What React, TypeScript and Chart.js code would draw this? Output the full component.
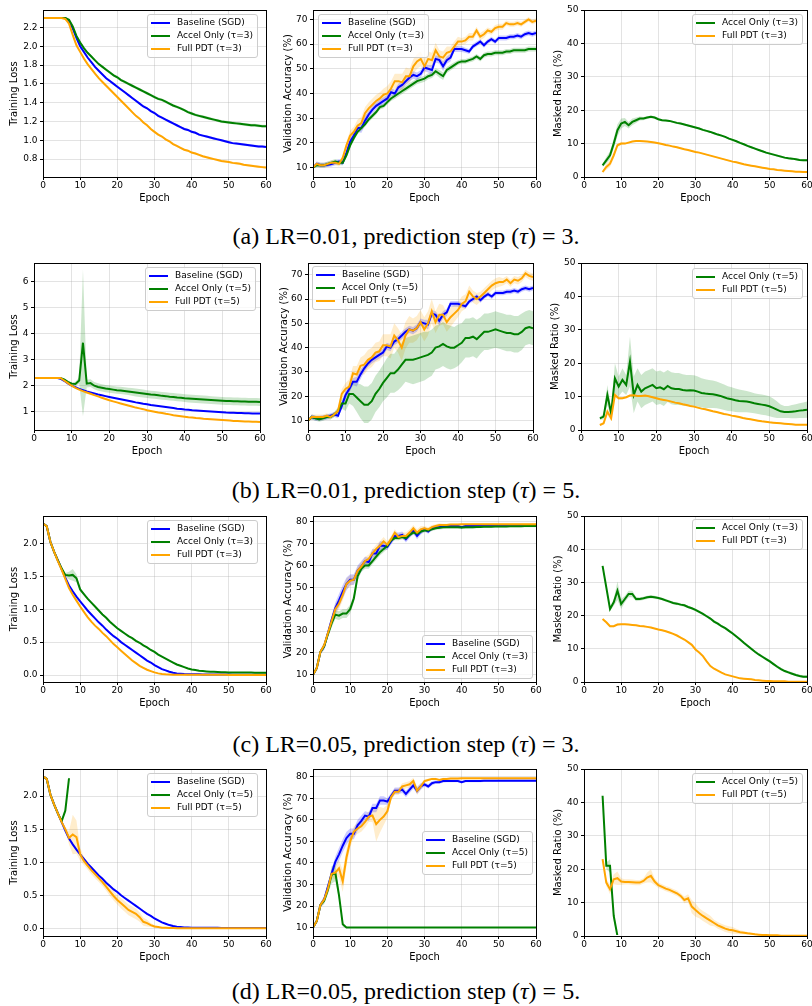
import React, { useEffect, useRef } from 'react';
import { Chart, registerables } from 'chart.js';

Chart.register(...registerables);

const FONT = '"DejaVu Sans", sans-serif';
const BLUE = '#0000ff';
const GREEN = '#008000';
const ORANGE = '#ffa500';
const GRID = 'rgba(176,176,176,0.35)';

const EPOCHS = Array.from({ length: 61 }, (_, i) => i);
const MASK_EPOCHS = Array.from({ length: 56 }, (_, i) => i + 5);

const X_TICKS = [0, 10, 20, 30, 40, 50, 60];
const LOSS_TICKS_A = [0.8, 1.0, 1.2, 1.4, 1.6, 1.8, 2.0, 2.2];
const LOSS_TICKS_B = [1, 2, 3, 4, 5, 6];
const LOSS_TICKS_CD = [0, 0.5, 1.0, 1.5, 2.0];
const ACC_TICKS_AB = [10, 20, 30, 40, 50, 60, 70];
const ACC_TICKS_CD = [10, 20, 30, 40, 50, 60, 70, 80];
const MASK_TICKS = [0, 10, 20, 30, 40, 50];

const LBL_BASE = 'Baseline (SGD)';
const LBL_ACCEL3 = 'Accel Only (τ=3)';
const LBL_FULL3 = 'Full PDT (τ=3)';
const LBL_ACCEL5 = 'Accel Only (τ=5)';
const LBL_FULL5 = 'Full PDT (τ=5)';

// ================= LR = 0.01 : training loss (epochs 0..60) =================
const BASE_LOSS_LR001 = [
  2.30, 2.30, 2.30, 2.30, 2.30, 2.30, 2.30, 2.27, 2.19, 2.09,
  2.00, 1.94, 1.88, 1.83, 1.78, 1.74, 1.70, 1.66, 1.63, 1.60,
  1.57, 1.54, 1.51, 1.48, 1.45, 1.42, 1.39, 1.36, 1.34, 1.31,
  1.29, 1.26, 1.24, 1.22, 1.20, 1.18, 1.16, 1.14, 1.12, 1.11,
  1.09, 1.08, 1.06, 1.05, 1.04, 1.03, 1.02, 1.01, 1.00, 0.99,
  0.98, 0.97, 0.965, 0.96, 0.955, 0.95, 0.945, 0.94, 0.935, 0.935,
  0.93,
];
const BASE_LOSS_LR001_STD = [
  0, 0, 0, 0, 0, 0, 0, 0.01, 0.02, 0.02,
  0.015, 0.013, 0.013, 0.013, 0.013, 0.013, 0.013, 0.013, 0.013, 0.013,
  0.013, 0.013, 0.013, 0.013, 0.013, 0.013, 0.013, 0.013, 0.013, 0.013,
  0.013, 0.013, 0.013, 0.013, 0.013, 0.013, 0.013, 0.013, 0.013, 0.013,
  0.013, 0.013, 0.013, 0.013, 0.013, 0.013, 0.013, 0.013, 0.013, 0.013,
  0.013, 0.013, 0.013, 0.013, 0.013, 0.013, 0.013, 0.013, 0.013, 0.013,
  0.013,
];
const ACCEL3_LOSS_LR001 = [
  2.30, 2.30, 2.30, 2.30, 2.30, 2.30, 2.30, 2.28, 2.21, 2.11,
  2.04, 1.98, 1.93, 1.89, 1.85, 1.81, 1.78, 1.75, 1.72, 1.69,
  1.67, 1.64, 1.62, 1.60, 1.58, 1.56, 1.54, 1.52, 1.50, 1.48,
  1.46, 1.44, 1.43, 1.41, 1.39, 1.37, 1.355, 1.34, 1.32, 1.30,
  1.285, 1.27, 1.26, 1.25, 1.24, 1.23, 1.22, 1.21, 1.20, 1.195,
  1.19, 1.185, 1.18, 1.175, 1.17, 1.165, 1.16, 1.16, 1.155, 1.15,
  1.15,
];
const ACCEL3_LOSS_LR001_STD = [
  0, 0, 0, 0, 0, 0, 0, 0.01, 0.02, 0.02,
  0.015, 0.015, 0.015, 0.015, 0.015, 0.015, 0.015, 0.015, 0.015, 0.015,
  0.015, 0.015, 0.015, 0.015, 0.015, 0.015, 0.015, 0.015, 0.015, 0.015,
  0.015, 0.015, 0.015, 0.015, 0.015, 0.015, 0.015, 0.015, 0.015, 0.015,
  0.015, 0.015, 0.015, 0.015, 0.015, 0.015, 0.015, 0.015, 0.015, 0.015,
  0.015, 0.015, 0.015, 0.015, 0.015, 0.015, 0.015, 0.015, 0.015, 0.015,
  0.015,
];
const FULL3_LOSS_LR001 = [
  2.30, 2.30, 2.30, 2.30, 2.30, 2.30, 2.29, 2.24, 2.12, 2.01,
  1.94, 1.87, 1.81, 1.76, 1.71, 1.66, 1.62, 1.58, 1.54, 1.50,
  1.46, 1.42, 1.38, 1.34, 1.30, 1.26, 1.23, 1.19, 1.16, 1.12,
  1.09, 1.06, 1.04, 1.01, 0.99, 0.96, 0.94, 0.92, 0.90, 0.89,
  0.87, 0.86, 0.845, 0.83, 0.82, 0.81, 0.80, 0.79, 0.78, 0.775,
  0.77, 0.76, 0.755, 0.75, 0.74, 0.735, 0.73, 0.725, 0.72, 0.715,
  0.71,
];
const FULL3_LOSS_LR001_STD = [
  0, 0, 0, 0, 0, 0, 0.01, 0.015, 0.02, 0.02,
  0.015, 0.012, 0.012, 0.012, 0.012, 0.012, 0.012, 0.012, 0.012, 0.012,
  0.012, 0.012, 0.012, 0.012, 0.012, 0.012, 0.012, 0.012, 0.012, 0.012,
  0.012, 0.012, 0.012, 0.012, 0.012, 0.012, 0.012, 0.012, 0.012, 0.012,
  0.012, 0.012, 0.012, 0.012, 0.012, 0.012, 0.012, 0.012, 0.012, 0.012,
  0.012, 0.012, 0.012, 0.012, 0.012, 0.012, 0.012, 0.012, 0.012, 0.012,
  0.012,
];
const ACCEL5_LOSS_LR001 = [
  2.30, 2.30, 2.30, 2.30, 2.30, 2.30, 2.30, 2.30, 2.24, 2.15,
  2.08, 2.07, 2.20, 3.65, 2.08, 2.10, 2.00, 1.95, 1.92, 1.89,
  1.87, 1.85, 1.83, 1.82, 1.80, 1.78, 1.76, 1.74, 1.72, 1.70,
  1.68, 1.66, 1.65, 1.63, 1.61, 1.60, 1.58, 1.57, 1.55, 1.54,
  1.52, 1.51, 1.50, 1.49, 1.48, 1.47, 1.46, 1.45, 1.44, 1.43,
  1.42, 1.41, 1.41, 1.40, 1.40, 1.39, 1.39, 1.38, 1.38, 1.38,
  1.37,
];
const ACCEL5_LOSS_LR001_STD = [
  0, 0, 0, 0, 0, 0, 0, 0, 0.02, 0.03,
  0.05, 0.08, 0.12, 2.82, 0.15, 0.15, 0.14, 0.14, 0.14, 0.14,
  0.14, 0.14, 0.14, 0.14, 0.14, 0.14, 0.15, 0.15, 0.15, 0.15,
  0.15, 0.15, 0.15, 0.15, 0.15, 0.15, 0.15, 0.15, 0.15, 0.15,
  0.15, 0.15, 0.15, 0.15, 0.15, 0.15, 0.15, 0.15, 0.15, 0.15,
  0.15, 0.15, 0.15, 0.15, 0.15, 0.15, 0.15, 0.15, 0.15, 0.15,
  0.15,
];
const FULL5_LOSS_LR001 = [
  2.30, 2.30, 2.30, 2.30, 2.30, 2.30, 2.30, 2.30, 2.20, 2.10,
  2.00, 1.92, 1.85, 1.79, 1.74, 1.69, 1.64, 1.59, 1.54, 1.49,
  1.44, 1.40, 1.36, 1.32, 1.28, 1.24, 1.20, 1.16, 1.13, 1.10,
  1.06, 1.03, 1.00, 0.97, 0.95, 0.92, 0.90, 0.87, 0.85, 0.83,
  0.81, 0.79, 0.78, 0.76, 0.75, 0.73, 0.72, 0.71, 0.70, 0.69,
  0.68, 0.67, 0.66, 0.65, 0.65, 0.64, 0.63, 0.63, 0.62, 0.62,
  0.61,
];
const FULL5_LOSS_LR001_STD = [
  0, 0, 0, 0, 0, 0, 0, 0, 0.01, 0.015,
  0.015, 0.012, 0.012, 0.012, 0.012, 0.012, 0.012, 0.012, 0.012, 0.012,
  0.012, 0.012, 0.012, 0.012, 0.012, 0.012, 0.012, 0.012, 0.012, 0.012,
  0.012, 0.012, 0.012, 0.012, 0.012, 0.012, 0.012, 0.012, 0.012, 0.012,
  0.012, 0.012, 0.012, 0.012, 0.012, 0.012, 0.012, 0.012, 0.012, 0.012,
  0.012, 0.012, 0.012, 0.012, 0.012, 0.012, 0.012, 0.012, 0.012, 0.012,
  0.012,
];

// ================= LR = 0.01 : validation accuracy (epochs 0..60) =================
const BASE_ACC_LR001 = [
  10, 11.5, 11, 11, 11.2, 11.5, 12, 12.5, 12, 16,
  20.5, 23, 26, 26, 29, 31.5, 33.5, 35, 36, 37,
  38, 40.5, 40, 42.5, 43.5, 45, 46.5, 47.5, 47, 48,
  50.5, 50, 49.5, 54, 53.5, 51, 53.5, 54.5, 58, 58,
  58, 57.5, 57, 59, 60, 61, 59.5, 61, 62, 61,
  62.5, 62.5, 62.5, 63, 63, 63.5, 63, 64, 64.5, 64,
  64.5,
];
const BASE_ACC_LR001_STD = [
  0.3, 1, 1, 1, 1, 1, 1, 1, 1, 1.2,
  1.5, 1.5, 1.5, 2, 2, 1.5, 1.5, 1.5, 1.5, 1.5,
  1.5, 1.5, 1.5, 1.5, 1.5, 1.5, 1.5, 1.5, 1.5, 1.5,
  1.5, 1.5, 2, 1.5, 1.5, 2, 1.5, 1.5, 1.2, 1.2,
  1.2, 1, 1, 1, 1, 1, 1, 1, 1, 1,
  1, 1, 1, 1, 1, 1, 1, 1, 1, 1,
  1,
];
const ACCEL3_ACC_LR001 = [
  10, 11, 11, 11, 11.5, 12, 12.5, 12, 12, 15,
  19, 22, 24.5, 26, 27.5, 29.5, 31, 32.5, 34.5, 35,
  36.5, 38, 39, 40, 41, 42, 43, 44, 45, 45.5,
  46, 47, 47.5, 49, 48, 47, 49.5, 50.5, 51.5, 52.5,
  53, 53, 53.5, 54, 55, 54, 55.5, 56, 56, 56.5,
  56.5, 56.5, 57, 57, 57.5, 57.5, 57.5, 57.5, 58, 58,
  58,
];
const ACCEL3_ACC_LR001_STD = [
  0.3, 1, 1, 1, 1, 1, 1, 1, 1, 1,
  1, 1, 1, 1, 1, 1, 1, 1, 1, 1,
  1, 1, 1.2, 1.2, 1.2, 1.2, 1.2, 1.2, 1.2, 1.2,
  1.2, 1.2, 1.2, 1.2, 1.5, 1.5, 1.2, 1.2, 1.2, 1,
  1, 1, 1, 1, 1, 1, 1, 1, 1, 1,
  1, 1, 1, 1, 1, 1, 1, 1, 1, 1,
  1,
];
const FULL3_ACC_LR001 = [
  10, 11.5, 11, 11, 11.5, 12, 12, 11.5, 14, 19,
  23, 24.5, 27, 28, 32, 34, 35.5, 37, 38, 39.5,
  40, 42, 45, 45, 44.5, 47, 47, 51, 53, 54,
  51, 54, 53.5, 57.5, 55, 54.5, 56.5, 57, 59, 61,
  61, 61.5, 63, 63, 65.5, 63, 64, 65.5, 65, 66.5,
  67, 67, 68.5, 68, 68, 68.5, 68, 69, 70, 69,
  69.5,
];
const FULL3_ACC_LR001_STD = [
  0.3, 1, 1, 1, 1, 1, 1, 1, 1, 1.5,
  2, 2, 2.5, 2.5, 2.5, 2.5, 2.5, 2.5, 2.5, 2.5,
  3, 3, 3, 3, 3.5, 3.5, 3, 3, 3, 3,
  3, 3, 3, 3, 2.5, 2.5, 2.5, 2, 2, 2,
  1.5, 1.5, 1.5, 1.5, 1.5, 1.5, 1.5, 1.2, 1.2, 1.2,
  1.2, 1.2, 1, 1, 1, 1, 1, 1, 1, 1,
  1,
];
const ACCEL5_ACC_LR001 = [
  10, 11.5, 11, 10.5, 11, 11.5, 11.5, 12.5, 14, 17,
  17, 21, 21, 19.5, 18, 16.5, 16.5, 18, 21, 23,
  25.5, 27.5, 29.5, 29.5, 31, 33, 35, 35, 35, 35.5,
  36, 36.5, 37, 38, 40, 40.5, 41.5, 40.5, 40, 40,
  41, 42, 44, 44, 44.5, 43.5, 45, 46.5, 46.5, 47,
  47.5, 47, 46.5, 46, 46, 45.5, 45.5, 46.5, 48, 48.5,
  48,
];
const ACCEL5_ACC_LR001_STD = [
  0.3, 1, 1, 1, 1, 1, 1, 1, 1.5, 2,
  3, 4, 5, 6, 7, 7.5, 7.5, 7.5, 7.5, 7.5,
  7.5, 8, 8, 8, 8.5, 9, 9, 9.5, 10, 10,
  10, 10, 9.5, 9.5, 9, 9, 9, 9, 9, 8.5,
  8.5, 8, 8, 8, 8, 8, 7.5, 7.5, 7.5, 7.5,
  7.5, 7.5, 7.5, 7.5, 7.5, 7.5, 7.5, 7.5, 7, 7,
  7,
];
const FULL5_ACC_LR001 = [
  10, 11.5, 11.5, 11.5, 11.5, 12, 11.5, 12.5, 14, 21,
  23, 24, 29.5, 29, 32.5, 33, 35, 36, 38, 38.5,
  41, 41, 40.5, 45, 43, 40, 45, 47.5, 47, 48,
  50.5, 47.5, 50, 55, 50.5, 53.5, 53.5, 50.5, 52.5, 54,
  55.5, 58, 59, 63, 61, 60, 61, 62.5, 64, 65.5,
  66.5, 67, 67, 68, 66.5, 68, 67.5, 68.5, 70.5, 69.5,
  69,
];
const FULL5_ACC_LR001_STD = [
  0.3, 1, 1, 1, 1, 1, 1, 1, 1, 2,
  2.5, 3, 3, 3.5, 3.5, 4, 4, 4, 4, 4,
  4.5, 4.5, 5, 5, 5, 5.5, 5.5, 5.5, 5, 5,
  5, 5, 5, 5, 4.5, 4.5, 4, 4, 4, 3.5,
  3, 3, 3, 2.5, 2.5, 2.5, 2, 2, 2, 2,
  2, 2, 1.5, 1.5, 1.5, 1.5, 1.5, 1.5, 1.5, 1.5,
  1.5,
];

// ================= LR = 0.01 : masked ratio (epochs 5..60) =================
const ACCEL3_MASK_LR001 = [
  3.5, 5, 6.5, 10, 14, 16, 16.5, 15.5, 16.5, 17,
  17.5, 17.5, 17.8, 18, 17.8, 17.3, 17, 16.9, 16.8, 16.5,
  16.2, 16, 15.7, 15.4, 15.1, 14.8, 14.5, 14.1, 13.8, 13.5,
  13.1, 12.7, 12.4, 12, 11.5, 11.1, 10.7, 10.2, 9.8, 9.3,
  8.9, 8.5, 8.1, 7.7, 7.3, 7, 6.7, 6.4, 6.1, 5.8,
  5.6, 5.5, 5.3, 5.1, 5, 5,
];
const ACCEL3_MASK_LR001_STD = [
  0.5, 1, 1.2, 1.5, 1.8, 1.5, 1.2, 1, 1, 0.8,
  0.6, 0.5, 0.4, 0.4, 0.4, 0.3, 0.3, 0.3, 0.3, 0.3,
  0.3, 0.3, 0.3, 0.3, 0.3, 0.3, 0.3, 0.3, 0.3, 0.3,
  0.3, 0.3, 0.3, 0.3, 0.3, 0.3, 0.3, 0.3, 0.3, 0.3,
  0.3, 0.3, 0.3, 0.3, 0.3, 0.3, 0.3, 0.3, 0.3, 0.3,
  0.3, 0.3, 0.3, 0.3, 0.3, 0.3,
];
const FULL3_MASK_LR001 = [
  1.5, 3, 4, 6.5, 9.5, 10, 10, 10.3, 10.6, 10.8,
  10.8, 10.7, 10.6, 10.5, 10.3, 10.1, 9.9, 9.6, 9.4, 9.1,
  8.9, 8.6, 8.3, 8.1, 7.8, 7.5, 7.3, 7, 6.7, 6.4,
  6.1, 5.8, 5.5, 5.2, 4.9, 4.6, 4.4, 4.1, 3.8, 3.6,
  3.4, 3.2, 3, 2.8, 2.6, 2.4, 2.3, 2.1, 2, 1.9,
  1.8, 1.7, 1.6, 1.6, 1.5, 1.5,
];
const FULL3_MASK_LR001_STD = [
  0.4, 0.8, 1, 1, 0.6, 0.4, 0.3, 0.3, 0.2, 0.2,
  0.2, 0.2, 0.2, 0.2, 0.2, 0.2, 0.2, 0.2, 0.2, 0.2,
  0.2, 0.2, 0.2, 0.2, 0.2, 0.2, 0.2, 0.2, 0.2, 0.2,
  0.2, 0.2, 0.2, 0.2, 0.2, 0.2, 0.2, 0.2, 0.2, 0.2,
  0.2, 0.2, 0.2, 0.2, 0.2, 0.2, 0.2, 0.2, 0.2, 0.2,
  0.2, 0.2, 0.2, 0.2, 0.2, 0.2,
];
const ACCEL5_MASK_LR001 = [
  3.5, 4, 10.5, 5, 15.5, 13, 15, 13.5, 20.5, 10.5,
  13.5, 11.5, 12.5, 13, 13.5, 12.5, 12.8, 12.2, 13.2, 12.5,
  12.3, 12.3, 12, 11.8, 11.9, 11.8, 11.5, 11.1, 10.9, 10.8,
  10.7, 10.5, 10.2, 9.8, 9.4, 9.2, 8.9, 8.7, 8.6, 8.5,
  8.3, 8, 7.8, 7.6, 7.4, 7.1, 6.6, 6.1, 5.6, 5.4,
  5.4, 5.5, 5.6, 5.8, 5.9, 6.1,
];
const ACCEL5_MASK_LR001_STD = [
  0.5, 0.8, 3, 1.5, 4.5, 3, 3.5, 3, 7.5, 5.5,
  5, 5, 5, 5, 5, 5, 5, 5, 4.8, 4.8,
  4.8, 4.8, 4.7, 4.7, 4.6, 4.6, 4.5, 4.4, 4.3, 4.2,
  4.1, 4, 3.9, 3.8, 3.7, 3.6, 3.5, 3.4, 3.3, 3.2,
  3.1, 3, 3, 3, 3, 3, 2.8, 2.5, 2, 1.8,
  1.8, 2, 2.1, 2.2, 2.3, 2.4,
];
const FULL5_MASK_LR001 = [
  1.5, 2, 5.5, 3.5, 10.5, 9.5, 9.5, 9.8, 10.3, 10.4,
  10.2, 10.2, 10.3, 10.1, 9.8, 9.5, 9.2, 9, 8.8, 8.5,
  8.2, 8, 7.7, 7.5, 7.2, 7, 6.7, 6.4, 6.2, 5.9,
  5.6, 5.4, 5.1, 4.8, 4.6, 4.3, 4.1, 3.9, 3.6, 3.4,
  3.2, 3, 2.8, 2.6, 2.5, 2.3, 2.2, 2.1, 2, 1.9,
  1.8, 1.7, 1.6, 1.6, 1.6, 1.6,
];
const FULL5_MASK_LR001_STD = [
  0.3, 0.5, 1, 0.8, 0.8, 0.5, 0.4, 0.3, 0.3, 0.3,
  0.2, 0.2, 0.2, 0.2, 0.2, 0.2, 0.2, 0.2, 0.2, 0.2,
  0.2, 0.2, 0.2, 0.2, 0.2, 0.2, 0.2, 0.2, 0.2, 0.2,
  0.2, 0.2, 0.2, 0.2, 0.2, 0.2, 0.2, 0.2, 0.2, 0.2,
  0.2, 0.2, 0.2, 0.2, 0.2, 0.2, 0.2, 0.2, 0.2, 0.2,
  0.2, 0.2, 0.2, 0.2, 0.2, 0.2,
];

// ================= LR = 0.05 : training loss (epochs 0..60) =================
const BASE_LOSS_LR005 = [
  2.30, 2.26, 2.02, 1.87, 1.74, 1.61, 1.48, 1.36, 1.27, 1.19,
  1.12, 1.05, 0.98, 0.92, 0.86, 0.80, 0.75, 0.69, 0.64, 0.59,
  0.55, 0.50, 0.46, 0.42, 0.38, 0.34, 0.30, 0.26, 0.22, 0.19,
  0.15, 0.12, 0.09, 0.07, 0.05, 0.035, 0.025, 0.02, 0.015, 0.012,
  0.01, 0.01, 0.01, 0.009, 0.009, 0.008, 0.008, 0.008, 0.007, 0.007,
  0.007, 0.006, 0.006, 0.006, 0.006, 0.005, 0.005, 0.005, 0.005, 0.005,
  0.005,
];
const BASE_LOSS_LR005_STD = [
  0, 0.01, 0.01, 0.01, 0.01, 0.01, 0.01, 0.01, 0.01, 0.01,
  0.01, 0.01, 0.01, 0.01, 0.01, 0.01, 0.01, 0.01, 0.01, 0.01,
  0.01, 0.01, 0.01, 0.01, 0.01, 0.01, 0.01, 0.01, 0.01, 0.01,
  0.01, 0.01, 0.01, 0.01, 0.01, 0.005, 0.005, 0.005, 0.005, 0.005,
  0.003, 0.003, 0.003, 0.003, 0.003, 0.003, 0.003, 0.003, 0.003, 0.003,
  0.003, 0.003, 0.003, 0.003, 0.003, 0.003, 0.003, 0.003, 0.003, 0.003,
  0.003,
];
const ACCEL3_LOSS_LR005 = [
  2.30, 2.26, 2.02, 1.87, 1.74, 1.62, 1.52, 1.51, 1.52, 1.47,
  1.30, 1.23, 1.16, 1.10, 1.04, 0.98, 0.92, 0.87, 0.81, 0.76,
  0.71, 0.67, 0.63, 0.59, 0.56, 0.52, 0.49, 0.45, 0.42, 0.38,
  0.35, 0.31, 0.28, 0.25, 0.22, 0.19, 0.16, 0.14, 0.12, 0.10,
  0.085, 0.075, 0.065, 0.06, 0.055, 0.05, 0.048, 0.045, 0.043, 0.042,
  0.04, 0.04, 0.039, 0.038, 0.038, 0.037, 0.037, 0.036, 0.036, 0.035,
  0.035,
];
const ACCEL3_LOSS_LR005_STD = [
  0, 0.01, 0.01, 0.01, 0.01, 0.02, 0.03, 0.06, 0.09, 0.06,
  0.03, 0.02, 0.015, 0.015, 0.015, 0.015, 0.015, 0.015, 0.015, 0.015,
  0.01, 0.01, 0.01, 0.01, 0.01, 0.01, 0.01, 0.01, 0.01, 0.01,
  0.01, 0.01, 0.01, 0.01, 0.01, 0.01, 0.01, 0.01, 0.01, 0.01,
  0.005, 0.005, 0.005, 0.005, 0.005, 0.005, 0.005, 0.005, 0.005, 0.005,
  0.005, 0.005, 0.005, 0.005, 0.005, 0.005, 0.005, 0.005, 0.005, 0.005,
  0.005,
];
const FULL3_LOSS_LR005 = [
  2.30, 2.26, 2.02, 1.87, 1.73, 1.60, 1.46, 1.32, 1.22, 1.13,
  1.04, 0.96, 0.88, 0.81, 0.75, 0.70, 0.64, 0.59, 0.53, 0.47,
  0.42, 0.37, 0.32, 0.27, 0.22, 0.18, 0.14, 0.11, 0.08, 0.06,
  0.04, 0.025, 0.015, 0.01, 0.007, 0.005, 0.004, 0.004, 0.003, 0.003,
  0.003, 0.003, 0.003, 0.003, 0.003, 0.003, 0.003, 0.003, 0.003, 0.003,
  0.002, 0.002, 0.002, 0.002, 0.002, 0.002, 0.002, 0.002, 0.002, 0.002,
  0.002,
];
const FULL3_LOSS_LR005_STD = [
  0, 0.01, 0.01, 0.01, 0.01, 0.01, 0.01, 0.01, 0.01, 0.01,
  0.01, 0.01, 0.01, 0.01, 0.01, 0.01, 0.01, 0.01, 0.01, 0.01,
  0.01, 0.01, 0.01, 0.01, 0.01, 0.01, 0.01, 0.01, 0.01, 0.01,
  0.005, 0.005, 0.005, 0.003, 0.003, 0.002, 0.002, 0.002, 0.002, 0.002,
  0.002, 0.002, 0.002, 0.002, 0.002, 0.002, 0.002, 0.002, 0.002, 0.002,
  0.002, 0.002, 0.002, 0.002, 0.002, 0.002, 0.002, 0.002, 0.002, 0.002,
  0.002,
];
const ACCEL5_LOSS_LR005 = [
  2.30, 2.26, 2.02, 1.87, 1.74, 1.62, 1.78, 2.27, null, null,
  null, null, null, null, null, null, null, null, null, null,
  null, null, null, null, null, null, null, null, null, null,
  null, null, null, null, null, null, null, null, null, null,
  null, null, null, null, null, null, null, null, null, null,
  null, null, null, null, null, null, null, null, null, null,
  null,
];
const ACCEL5_LOSS_LR005_STD = [0, 0.01, 0.01, 0.01, 0.01, 0.02, 0.03, 0.03];
const FULL5_LOSS_LR005 = [
  2.30, 2.26, 2.02, 1.87, 1.74, 1.61, 1.50, 1.37, 1.42, 1.38,
  1.12, 1.02, 0.95, 0.88, 0.82, 0.76, 0.70, 0.63, 0.56, 0.49,
  0.43, 0.38, 0.33, 0.28, 0.25, 0.22, 0.17, 0.10, 0.08, 0.05,
  0.03, 0.02, 0.01, 0.008, 0.006, 0.005, 0.004, 0.004, 0.004, 0.004,
  0.003, 0.003, 0.003, 0.003, 0.003, 0.003, 0.003, 0.003, 0.003, 0.003,
  0.003, 0.003, 0.003, 0.003, 0.003, 0.003, 0.003, 0.003, 0.003, 0.003,
  0.003,
];
const FULL5_LOSS_LR005_STD = [
  0, 0.01, 0.01, 0.01, 0.01, 0.01, 0.02, 0.1, 0.3, 0.25,
  0.1, 0.06, 0.06, 0.06, 0.06, 0.06, 0.06, 0.06, 0.07, 0.07,
  0.07, 0.08, 0.08, 0.08, 0.08, 0.08, 0.07, 0.06, 0.05, 0.03,
  0.02, 0.01, 0.005, 0.003, 0.003, 0.003, 0.003, 0.003, 0.003, 0.003,
  0.003, 0.003, 0.003, 0.003, 0.003, 0.003, 0.003, 0.003, 0.003, 0.003,
  0.003, 0.003, 0.003, 0.003, 0.003, 0.003, 0.003, 0.003, 0.003, 0.003,
  0.003,
];

// ================= LR = 0.05 : validation accuracy (epochs 0..60) =================
const BASE_ACC_LR005 = [
  10, 13, 20.5, 23, 29, 35, 40.5, 44, 48, 51.5,
  53.5, 53.5, 57.5, 59.5, 62, 61.5, 65.5, 65.5, 69, 69,
  68.5, 71, 73.5, 73.5, 74, 72, 74, 76, 73.5, 75.5,
  76.5, 75.5, 77, 77.5, 77.5, 78, 78, 78, 78, 78,
  77.5, 78, 78, 78, 78, 78, 78.1, 78.1, 78.1, 78.1,
  78.2, 78.2, 78.2, 78.2, 78.2, 78.2, 78.2, 78.2, 78.2, 78.2,
  78.2,
];
const BASE_ACC_LR005_STD = [
  0.3, 0.8, 1, 1.5, 1.5, 2, 2.5, 3, 3, 3,
  2.5, 2.5, 2.5, 2.5, 2, 2, 2, 2, 2, 2,
  1.5, 1.5, 1.5, 1.5, 1.5, 1.5, 1.5, 1.5, 1.5, 1.5,
  1, 1, 1, 0.8, 0.8, 0.8, 0.6, 0.6, 0.6, 0.6,
  0.6, 0.5, 0.5, 0.5, 0.5, 0.5, 0.5, 0.5, 0.5, 0.5,
  0.5, 0.5, 0.5, 0.5, 0.5, 0.5, 0.5, 0.5, 0.5, 0.5,
  0.5,
];
const ACCEL3_ACC_LR005 = [
  10, 13, 20.5, 23, 28.5, 33.5, 37.5, 37, 38, 38,
  40, 45, 55, 58.5, 60, 60, 62, 64, 66, 67.5,
  69, 71.5, 72.5, 72.5, 73, 72.5, 74, 75, 74.5, 75.5,
  76, 76, 76.5, 77, 77.2, 77.4, 77.5, 77.5, 77.5, 77.5,
  77.3, 77.4, 77.5, 77.5, 77.6, 77.6, 77.7, 77.7, 77.7, 77.8,
  77.8, 77.8, 77.8, 77.9, 77.9, 77.9, 77.9, 78, 78, 78,
  78,
];
const ACCEL3_ACC_LR005_STD = [
  0.3, 0.8, 1, 1.5, 1.5, 2, 2, 2, 2, 2,
  2, 2, 2, 1.5, 1.5, 1.5, 1.5, 1.5, 1.5, 1.5,
  1.5, 1, 1, 1, 1, 1, 1, 1, 1, 1,
  0.8, 0.8, 0.8, 0.8, 0.8, 0.8, 0.6, 0.6, 0.6, 0.6,
  0.6, 0.6, 0.6, 0.6, 0.6, 0.5, 0.5, 0.5, 0.5, 0.5,
  0.5, 0.5, 0.5, 0.5, 0.5, 0.5, 0.5, 0.5, 0.5, 0.5,
  0.5,
];
const FULL3_ACC_LR005 = [
  10, 13, 20.5, 23.5, 29, 34.5, 40, 42.5, 46.5, 51.5,
  53, 53.5, 57.5, 59.5, 62, 63, 65.5, 67.5, 69, 71,
  69.5, 72, 75, 73, 73.5, 73.5, 75, 77, 75, 76.5,
  77, 76.5, 77.5, 78, 78.5, 78.5, 78.5, 78.7, 78.7, 78.7,
  78.8, 78.8, 78.8, 78.8, 78.8, 78.8, 78.8, 78.8, 78.8, 78.8,
  78.8, 78.8, 78.8, 78.8, 78.8, 78.8, 78.8, 78.8, 78.8, 78.8,
  78.8,
];
const FULL3_ACC_LR005_STD = [
  0.3, 0.8, 1, 1.5, 1.5, 2, 2.5, 2.5, 2.5, 2.5,
  2.5, 2, 2, 2, 2, 2, 2, 2, 2, 2,
  1.5, 1.5, 1.5, 1.5, 1.5, 1.5, 1.5, 1.5, 1.5, 1.5,
  1, 1, 1, 0.8, 0.8, 0.6, 0.6, 0.5, 0.5, 0.5,
  0.5, 0.5, 0.5, 0.5, 0.5, 0.5, 0.5, 0.5, 0.5, 0.5,
  0.5, 0.5, 0.5, 0.5, 0.5, 0.5, 0.5, 0.5, 0.5, 0.5,
  0.5,
];
const ACCEL5_ACC_LR005 = [
  10, 13, 20.5, 22.5, 27.5, 34.5, 35.5, 25, 11.5, 10,
  10, 10, 10, 10, 10, 10, 10, 10, 10, 10,
  10, 10, 10, 10, 10, 10, 10, 10, 10, 10,
  10, 10, 10, 10, 10, 10, 10, 10, 10, 10,
  10, 10, 10, 10, 10, 10, 10, 10, 10, 10,
  10, 10, 10, 10, 10, 10, 10, 10, 10, 10,
  10,
];
const ACCEL5_ACC_LR005_STD = [
  0.3, 0.8, 1, 1.5, 2, 4, 4, 2, 1, 0.3,
  0, 0, 0, 0, 0, 0, 0, 0, 0, 0,
  0, 0, 0, 0, 0, 0, 0, 0, 0, 0,
  0, 0, 0, 0, 0, 0, 0, 0, 0, 0,
  0, 0, 0, 0, 0, 0, 0, 0, 0, 0,
  0, 0, 0, 0, 0, 0, 0, 0, 0, 0,
  0,
];
const FULL5_ACC_LR005 = [
  10, 13, 20.5, 23, 28, 35, 35.5, 37.5, 31.5, 42.5,
  50, 54.5, 56, 57, 59, 61.5, 62, 58, 60, 61.5,
  64, 70.5, 73, 73, 75.5, 76, 76.5, 78, 73.5, 75.5,
  78, 78.5, 79, 79, 78.5, 79, 79, 79.2, 79.2, 79.2,
  79.3, 79.3, 79.3, 79.3, 79.3, 79.3, 79.3, 79.3, 79.3, 79.3,
  79.3, 79.3, 79.3, 79.3, 79.3, 79.3, 79.3, 79.3, 79.3, 79.3,
  79.3,
];
const FULL5_ACC_LR005_STD = [
  0.3, 0.8, 1, 1.5, 1.5, 2, 3, 4, 5, 4,
  3, 2.5, 2.5, 2.5, 2.5, 2.5, 3, 8, 6, 4,
  3, 1.5, 1.5, 1.5, 1.5, 1.5, 1.5, 1.5, 2, 1.5,
  0.8, 0.6, 0.5, 0.5, 0.5, 0.5, 0.5, 0.5, 0.5, 0.5,
  0.4, 0.4, 0.4, 0.4, 0.4, 0.4, 0.4, 0.4, 0.4, 0.4,
  0.4, 0.4, 0.4, 0.4, 0.4, 0.4, 0.4, 0.4, 0.4, 0.4,
  0.4,
];

// ================= LR = 0.05 : masked ratio (epochs 5..60) =================
const ACCEL3_MASK_LR005 = [
  35, 28.5, 22, 24, 27.5, 23.5, 25, 26.5, 26.5, 25,
  25, 25.2, 25.5, 25.7, 25.5, 25.3, 25, 24.6, 24.2, 23.8,
  23.6, 23.3, 23.1, 22.6, 22.2, 21.7, 21.1, 20.5, 19.8, 19.1,
  18.2, 17.6, 16.8, 16.2, 15.4, 14.6, 13.7, 12.8, 11.8, 10.9,
  10, 9.1, 8.3, 7.6, 6.9, 6.2, 5.4, 4.6, 3.9, 3.3,
  2.9, 2.5, 2.1, 1.8, 1.6, 1.6,
];
const ACCEL3_MASK_LR005_STD = [
  0.3, 0.5, 0.7, 1, 2.8, 1.5, 1, 1, 1, 0.7,
  0.5, 0.5, 0.5, 0.5, 0.5, 0.4, 0.4, 0.4, 0.4, 0.4,
  0.4, 0.4, 0.4, 0.4, 0.4, 0.4, 0.4, 0.4, 0.4, 0.4,
  0.4, 0.4, 0.4, 0.4, 0.4, 0.4, 0.4, 0.4, 0.4, 0.4,
  0.4, 0.4, 0.4, 0.4, 0.4, 0.4, 0.4, 0.4, 0.4, 0.4,
  0.4, 0.4, 0.4, 0.4, 0.4, 0.4,
];
const FULL3_MASK_LR005 = [
  19, 18, 16.8, 16.8, 17.3, 17.4, 17.4, 17.3, 17.2, 17.1,
  16.9, 16.8, 16.6, 16.4, 16.1, 15.8, 15.6, 15.3, 14.9, 14.5,
  14, 13.4, 12.8, 12, 11.2, 9.8, 8.9, 7.8, 6.2, 4.8,
  4, 3.4, 2.8, 2.3, 2, 1.7, 1.4, 1.1, 1, 0.9,
  0.8, 0.6, 0.5, 0.4, 0.3, 0.3, 0.2, 0.2, 0.2, 0.2,
  0.1, 0.1, 0.1, 0.1, 0.1, 0.1,
];
const FULL3_MASK_LR005_STD = [
  0.3, 0.3, 0.3, 0.3, 0.3, 0.2, 0.2, 0.2, 0.2, 0.2,
  0.2, 0.2, 0.2, 0.2, 0.2, 0.2, 0.2, 0.2, 0.2, 0.2,
  0.2, 0.2, 0.2, 0.2, 0.2, 0.2, 0.2, 0.2, 0.2, 0.2,
  0.2, 0.2, 0.2, 0.2, 0.2, 0.2, 0.2, 0.2, 0.2, 0.2,
  0.1, 0.1, 0.1, 0.1, 0.1, 0.1, 0.1, 0.1, 0.1, 0.1,
  0.05, 0.05, 0.05, 0.05, 0.05, 0.05,
];
const ACCEL5_MASK_LR005 = [
  42, 21, 21, 6, 0, 0, 0, 0, 0, 0,
  0, 0, 0, 0, 0, 0, 0, 0, 0, 0,
  0, 0, 0, 0, 0, 0, 0, 0, 0, 0,
  0, 0, 0, 0, 0, 0, 0, 0, 0, 0,
  0, 0, 0, 0, 0, 0, 0, 0, 0, 0,
  0, 0, 0, 0, 0, 0,
];
const ACCEL5_MASK_LR005_STD = [0.5, 1, 2, 1.5, 0.3];
const FULL5_MASK_LR005 = [
  23, 16, 14, 17, 17.3, 16.3, 16.2, 16.2, 16.1, 16,
  16, 16.5, 17.5, 18, 16.3, 15.2, 14.7, 14.2, 13.8, 13.3,
  12.8, 12, 10.8, 11.3, 8.8, 7.8, 6.8, 6, 5.3, 4.6,
  3.9, 3.2, 2.7, 2.2, 1.9, 1.7, 1.4, 1.1, 1, 0.8,
  0.7, 0.5, 0.4, 0.3, 0.3, 0.2, 0.2, 0.2, 0.1, 0.1,
  0.1, 0.1, 0.1, 0.1, 0.1, 0.1,
];
const FULL5_MASK_LR005_STD = [
  0.5, 1, 1.5, 1.5, 2, 1, 0.8, 0.8, 0.8, 0.8,
  0.8, 0.8, 1.5, 2, 1, 0.8, 0.8, 0.8, 0.8, 0.8,
  0.8, 0.8, 1, 1.2, 2, 2, 1.5, 1.5, 1.5, 1.5,
  1, 1, 1, 1, 1, 1, 0.8, 0.6, 0.5, 0.4,
  0.3, 0.3, 0.2, 0.2, 0.2, 0.1, 0.1, 0.1, 0.1, 0.1,
  0.1, 0.1, 0.1, 0.1, 0.1, 0.1,
];

// ================= layout =================
type Series = {
  label: string;
  color: string;
  x: number[];
  mean: (number | null)[];
  std: number[];
  clipBottom?: number;
};
type LegendSpec = { loc: 'ur' | 'ul' | 'lr' | 'cr'; mx: number; my: number };
type PanelSpec = {
  key: string;
  plot: [number, number, number, number];
  titleX: number;
  yTitle: string;
  yMin: number;
  yMax: number;
  yTicks: number[];
  yDec: number;
  series: Series[];
  legend: LegendSpec;
};

const PAD_TOP = 8;
const PAD_RIGHT = 8;
const X_AXIS_H = 27;

const s = (label: string, color: string, x: number[], mean: (number | null)[], std: number[], clipBottom?: number): Series => ({
  label, color, x, mean, std, clipBottom,
});

const PANELS: PanelSpec[] = [
  // (a)
  {
    key: 'a1', plot: [43, 10, 266, 177], titleX: 14, yTitle: 'Training Loss',
    yMin: 0.61, yMax: 2.385, yTicks: LOSS_TICKS_A, yDec: 1,
    series: [
      s(LBL_BASE, BLUE, EPOCHS, BASE_LOSS_LR001, BASE_LOSS_LR001_STD),
      s(LBL_ACCEL3, GREEN, EPOCHS, ACCEL3_LOSS_LR001, ACCEL3_LOSS_LR001_STD),
      s(LBL_FULL3, ORANGE, EPOCHS, FULL3_LOSS_LR001, FULL3_LOSS_LR001_STD),
    ],
    legend: { loc: 'ur', mx: 9, my: 4 },
  },
  {
    key: 'a2', plot: [313, 10, 536, 177], titleX: 288, yTitle: 'Validation Accuracy (%)',
    yMin: 6.2, yMax: 73.8, yTicks: ACC_TICKS_AB, yDec: 0,
    series: [
      s(LBL_BASE, BLUE, EPOCHS, BASE_ACC_LR001, BASE_ACC_LR001_STD),
      s(LBL_ACCEL3, GREEN, EPOCHS, ACCEL3_ACC_LR001, ACCEL3_ACC_LR001_STD),
      s(LBL_FULL3, ORANGE, EPOCHS, FULL3_ACC_LR001, FULL3_ACC_LR001_STD),
    ],
    legend: { loc: 'ul', mx: 5, my: 4 },
  },
  {
    key: 'a3', plot: [584, 10, 807, 177], titleX: 558, yTitle: 'Masked Ratio (%)',
    yMin: 0, yMax: 50, yTicks: MASK_TICKS, yDec: 0,
    series: [
      s(LBL_ACCEL3, GREEN, MASK_EPOCHS, ACCEL3_MASK_LR001, ACCEL3_MASK_LR001_STD),
      s(LBL_FULL3, ORANGE, MASK_EPOCHS, FULL3_MASK_LR001, FULL3_MASK_LR001_STD),
    ],
    legend: { loc: 'ur', mx: 5, my: 4 },
  },
  // (b)
  {
    key: 'b1', plot: [34, 263, 260, 430], titleX: 14, yTitle: 'Training Loss',
    yMin: 0.30, yMax: 6.71, yTicks: LOSS_TICKS_B, yDec: 0,
    series: [
      s(LBL_BASE, BLUE, EPOCHS, BASE_LOSS_LR001, BASE_LOSS_LR001_STD),
      s(LBL_ACCEL5, GREEN, EPOCHS, ACCEL5_LOSS_LR001, ACCEL5_LOSS_LR001_STD),
      s(LBL_FULL5, ORANGE, EPOCHS, FULL5_LOSS_LR001, FULL5_LOSS_LR001_STD),
    ],
    legend: { loc: 'ur', mx: 5, my: 4 },
  },
  {
    key: 'b2', plot: [308, 263, 533, 430], titleX: 284, yTitle: 'Validation Accuracy (%)',
    yMin: 6.15, yMax: 74.8, yTicks: ACC_TICKS_AB, yDec: 0,
    series: [
      s(LBL_BASE, BLUE, EPOCHS, BASE_ACC_LR001, BASE_ACC_LR001_STD),
      s(LBL_ACCEL5, GREEN, EPOCHS, ACCEL5_ACC_LR001, ACCEL5_ACC_LR001_STD),
      s(LBL_FULL5, ORANGE, EPOCHS, FULL5_ACC_LR001, FULL5_ACC_LR001_STD),
    ],
    legend: { loc: 'ul', mx: 4, my: 3 },
  },
  {
    key: 'b3', plot: [581, 263, 807, 430], titleX: 555, yTitle: 'Masked Ratio (%)',
    yMin: 0, yMax: 50, yTicks: MASK_TICKS, yDec: 0,
    series: [
      s(LBL_ACCEL5, GREEN, MASK_EPOCHS, ACCEL5_MASK_LR001, ACCEL5_MASK_LR001_STD),
      s(LBL_FULL5, ORANGE, MASK_EPOCHS, FULL5_MASK_LR001, FULL5_MASK_LR001_STD),
    ],
    legend: { loc: 'ur', mx: 5, my: 5 },
  },
  // (c)
  {
    key: 'c1', plot: [43, 516, 266, 682], titleX: 14, yTitle: 'Training Loss',
    yMin: -0.106, yMax: 2.415, yTicks: LOSS_TICKS_CD, yDec: 1,
    series: [
      s(LBL_BASE, BLUE, EPOCHS, BASE_LOSS_LR005, BASE_LOSS_LR005_STD),
      s(LBL_ACCEL3, GREEN, EPOCHS, ACCEL3_LOSS_LR005, ACCEL3_LOSS_LR005_STD),
      s(LBL_FULL3, ORANGE, EPOCHS, FULL3_LOSS_LR005, FULL3_LOSS_LR005_STD),
    ],
    legend: { loc: 'ur', mx: 9, my: 4 },
  },
  {
    key: 'c2', plot: [313, 516, 536, 682], titleX: 288, yTitle: 'Validation Accuracy (%)',
    yMin: 6.7, yMax: 82.6, yTicks: ACC_TICKS_CD, yDec: 0,
    series: [
      s(LBL_BASE, BLUE, EPOCHS, BASE_ACC_LR005, BASE_ACC_LR005_STD),
      s(LBL_ACCEL3, GREEN, EPOCHS, ACCEL3_ACC_LR005, ACCEL3_ACC_LR005_STD),
      s(LBL_FULL3, ORANGE, EPOCHS, FULL3_ACC_LR005, FULL3_ACC_LR005_STD),
    ],
    legend: { loc: 'lr', mx: 4, my: 4 },
  },
  {
    key: 'c3', plot: [584, 516, 807, 682], titleX: 558, yTitle: 'Masked Ratio (%)',
    yMin: 0, yMax: 50, yTicks: MASK_TICKS, yDec: 0,
    series: [
      s(LBL_ACCEL3, GREEN, MASK_EPOCHS, ACCEL3_MASK_LR005, ACCEL3_MASK_LR005_STD),
      s(LBL_FULL3, ORANGE, MASK_EPOCHS, FULL3_MASK_LR005, FULL3_MASK_LR005_STD),
    ],
    legend: { loc: 'ur', mx: 5, my: 3 },
  },
  // (d)
  {
    key: 'd1', plot: [43, 769, 266, 936], titleX: 14, yTitle: 'Training Loss',
    yMin: -0.115, yMax: 2.41, yTicks: LOSS_TICKS_CD, yDec: 1,
    series: [
      s(LBL_BASE, BLUE, EPOCHS, BASE_LOSS_LR005, BASE_LOSS_LR005_STD),
      s(LBL_ACCEL5, GREEN, EPOCHS, ACCEL5_LOSS_LR005, ACCEL5_LOSS_LR005_STD),
      s(LBL_FULL5, ORANGE, EPOCHS, FULL5_LOSS_LR005, FULL5_LOSS_LR005_STD),
    ],
    legend: { loc: 'ur', mx: 9, my: 4 },
  },
  {
    key: 'd2', plot: [313, 769, 536, 936], titleX: 288, yTitle: 'Validation Accuracy (%)',
    yMin: 6.1, yMax: 83.6, yTicks: ACC_TICKS_CD, yDec: 0,
    series: [
      s(LBL_BASE, BLUE, EPOCHS, BASE_ACC_LR005, BASE_ACC_LR005_STD),
      s(LBL_ACCEL5, GREEN, EPOCHS, ACCEL5_ACC_LR005, ACCEL5_ACC_LR005_STD),
      s(LBL_FULL5, ORANGE, EPOCHS, FULL5_ACC_LR005, FULL5_ACC_LR005_STD),
    ],
    legend: { loc: 'cr', mx: 4, my: 0 },
  },
  {
    key: 'd3', plot: [584, 769, 807, 936], titleX: 558, yTitle: 'Masked Ratio (%)',
    yMin: 0, yMax: 50, yTicks: MASK_TICKS, yDec: 0,
    series: [
      s(LBL_ACCEL5, GREEN, MASK_EPOCHS, ACCEL5_MASK_LR005, ACCEL5_MASK_LR005_STD, -1),
      s(LBL_FULL5, ORANGE, MASK_EPOCHS, FULL5_MASK_LR005, FULL5_MASK_LR005_STD),
    ],
    legend: { loc: 'ur', mx: 5, my: 4 },
  },
];

const CAPTIONS = [
  { tag: '(a)', lr: '0.01', tau: '3', y: 236 },
  { tag: '(b)', lr: '0.01', tau: '5', y: 490 },
  { tag: '(c)', lr: '0.05', tau: '3', y: 744 },
  { tag: '(d)', lr: '0.05', tau: '5', y: 991 },
];

function rgba(hex: string, a: number) {
  const n = parseInt(hex.slice(1), 16);
  return `rgba(${(n >> 16) & 255},${(n >> 8) & 255},${n & 255},${a})`;
}

function buildDatasets(series: Series[]) {
  const ds: any[] = [];
  const n = series.length;
  series.forEach((sr) => {
    const clip = sr.clipBottom != null ? { left: 3, top: 3, right: 3, bottom: sr.clipBottom } : undefined;
    const lo = sr.x.map((x, k) => ({ x, y: sr.mean[k] == null ? null : (sr.mean[k] as number) - (sr.std[k] ?? 0) }));
    const hi = sr.x.map((x, k) => ({ x, y: sr.mean[k] == null ? null : (sr.mean[k] as number) + (sr.std[k] ?? 0) }));
    ds.push({ data: lo, borderWidth: 0, borderColor: 'rgba(0,0,0,0)', pointRadius: 0, fill: false, order: 10, clip });
    ds.push({ data: hi, borderWidth: 0, borderColor: 'rgba(0,0,0,0)', pointRadius: 0, fill: '-1', backgroundColor: rgba(sr.color, 0.2), order: 10, clip });
  });
  series.forEach((sr, i) => {
    const clip = sr.clipBottom != null ? { left: 3, top: 3, right: 3, bottom: sr.clipBottom } : undefined;
    ds.push({
      data: sr.x.map((x, k) => ({ x, y: sr.mean[k] })),
      borderColor: sr.color,
      borderWidth: 2,
      pointRadius: 0,
      fill: false,
      tension: 0,
      spanGaps: false,
      order: n - i,
      clip,
    });
  });
  return ds;
}

function Panel({ spec }: { spec: PanelSpec }) {
  const ref = useRef<HTMLCanvasElement | null>(null);
  const [l, t, r, b] = spec.plot;
  const canvasLeft = spec.titleX - 6;
  const yW = l - canvasLeft;
  const w = r - l + yW + PAD_RIGHT;
  const h = b - t + PAD_TOP + X_AXIS_H;

  useEffect(() => {
    const canvas = ref.current;
    if (!canvas) return;

    const framePlugin = {
      id: 'frame',
      afterDatasetsDraw(chart: any) {
        const { ctx, chartArea: a } = chart;
        ctx.save();
        ctx.strokeStyle = '#000';
        ctx.lineWidth = 1;
        ctx.strokeRect(a.left + 0.5, a.top + 0.5, a.right - a.left, a.bottom - a.top);
        ctx.restore();
      },
    };

    const legendPlugin = {
      id: 'inlegend',
      afterDraw(chart: any) {
        const { ctx, chartArea: a } = chart;
        const labels = spec.series.map((sr) => sr.label);
        ctx.save();
        ctx.font = `9px ${FONT}`;
        const tw = Math.max(...labels.map((lb) => ctx.measureText(lb).width));
        const PAD = 3.75, ROW = 9.5, SP = 3.5;
        const bw = Math.round(30 + tw + 4);
        const bh = Math.round(2 * PAD + labels.length * ROW + (labels.length - 1) * SP);
        const lg = spec.legend;
        let x = 0, y = 0;
        if (lg.loc === 'ur') { x = a.right - lg.mx - bw; y = a.top + lg.my; }
        else if (lg.loc === 'ul') { x = a.left + lg.mx; y = a.top + lg.my; }
        else if (lg.loc === 'lr') { x = a.right - lg.mx - bw; y = a.bottom - lg.my - bh; }
        else { x = a.right - lg.mx - bw; y = Math.round((a.top + a.bottom) / 2 - bh / 2); }
        ctx.beginPath();
        ctx.roundRect(x + 0.5, y + 0.5, bw, bh, 2.5);
        ctx.fillStyle = 'rgba(255,255,255,0.8)';
        ctx.fill();
        ctx.strokeStyle = '#cccccc';
        ctx.lineWidth = 1;
        ctx.stroke();
        labels.forEach((lb, k) => {
          const cy = y + PAD + ROW / 2 + k * (ROW + SP) + 0.5;
          ctx.strokeStyle = spec.series[k].color;
          ctx.lineWidth = 2;
          ctx.beginPath();
          ctx.moveTo(x + 4, cy);
          ctx.lineTo(x + 23, cy);
          ctx.stroke();
          ctx.fillStyle = '#000';
          ctx.textAlign = 'left';
          ctx.textBaseline = 'middle';
          ctx.fillText(lb, x + 30, cy);
        });
        ctx.restore();
      },
    };

    const chart = new Chart(canvas, {
      type: 'line',
      data: { datasets: buildDatasets(spec.series) },
      options: {
        responsive: false,
        animation: false,
        devicePixelRatio: 1,
        events: [],
        layout: { padding: { left: 0, top: PAD_TOP, right: PAD_RIGHT, bottom: 0 }, autoPadding: false },
        plugins: { legend: { display: false }, tooltip: { enabled: false } },
        scales: {
          x: {
            type: 'linear',
            min: 0,
            max: 60,
            afterBuildTicks: (axis: any) => { axis.ticks = X_TICKS.map((v) => ({ value: v })); },
            afterFit: (axis: any) => { axis.height = X_AXIS_H; },
            ticks: { font: { family: FONT, size: 9 }, color: '#000', padding: 0, maxRotation: 0, autoSkip: false, callback: (v: any) => String(v) },
            grid: { color: GRID, lineWidth: 1, drawTicks: true, tickLength: 3, tickColor: '#000', tickWidth: 1 },
            border: { display: false },
            title: { display: true, text: 'Epoch', font: { family: FONT, size: 10 }, color: '#000', padding: 0 },
          },
          y: {
            type: 'linear',
            min: spec.yMin,
            max: spec.yMax,
            afterBuildTicks: (axis: any) => { axis.ticks = spec.yTicks.map((v) => ({ value: v })); },
            afterFit: (axis: any) => { axis.width = yW; },
            ticks: { font: { family: FONT, size: 9 }, color: '#000', padding: 2.5, autoSkip: false, callback: (v: any) => Number(v).toFixed(spec.yDec) },
            grid: { color: GRID, lineWidth: 1, drawTicks: true, tickLength: 3, tickColor: '#000', tickWidth: 1 },
            border: { display: false },
            title: { display: true, text: spec.yTitle, font: { family: FONT, size: 10 }, color: '#000', padding: 0 },
          },
        },
      } as any,
      plugins: [framePlugin, legendPlugin],
    });
    return () => chart.destroy();
  }, []);

  return (
    <canvas
      ref={ref}
      width={w}
      height={h}
      style={{ position: 'absolute', left: canvasLeft, top: t - PAD_TOP, width: w, height: h }}
    />
  );
}

export default function App() {
  return (
    <div style={{ position: 'absolute', left: 0, top: 0, width: 812, height: 1006, overflow: 'hidden', background: '#fff' }}>
      {PANELS.map((p) => (
        <Panel key={p.key} spec={p} />
      ))}
      {CAPTIONS.map((c) => (
        <div
          key={c.tag}
          style={{
            position: 'absolute',
            left: 0,
            width: 812,
            top: c.y - 14,
            height: 28,
            lineHeight: '28px',
            textAlign: 'center',
            fontFamily: '"Liberation Serif", "Times New Roman", serif',
            fontSize: 24,
            color: '#000',
            whiteSpace: 'nowrap',
          }}
        >
          {c.tag} LR={c.lr}, prediction step (<i>τ</i>) = {c.tau}.
        </div>
      ))}
    </div>
  );
}
